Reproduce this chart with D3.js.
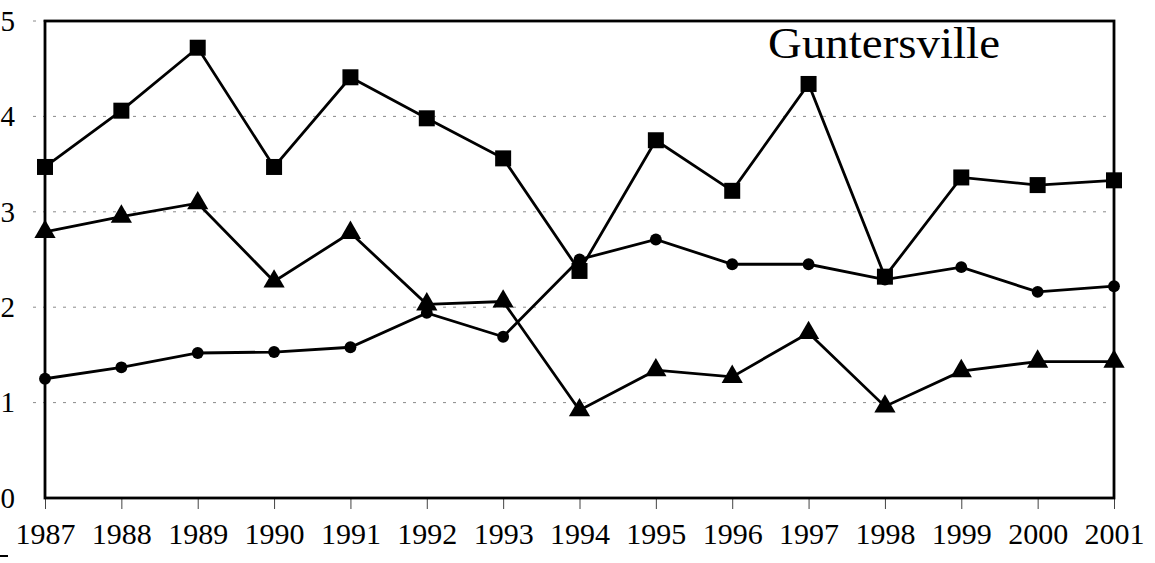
<!DOCTYPE html>
<html>
<head>
<meta charset="utf-8">
<script src="https://cdn.jsdelivr.net/npm/d3@7"></script>
<style>
  body { margin: 0; background: #fff; }
  svg { display: block; }
  text { font-family: "Liberation Serif", "Times New Roman", serif; fill: #000; }
</style>
</head>
<body>
<svg id="chart" width="1155" height="563"></svg>
<script>
// values
const years = [1987, 1988, 1989, 1990, 1991, 1992, 1993, 1994, 1995, 1996, 1997, 1998, 1999, 2000, 2001];
const squareSeries = [3.47, 4.06, 4.72, 3.47, 4.41, 3.98, 3.56, 2.38, 3.75, 3.22, 4.34, 2.32, 3.36, 3.28, 3.33];
const circleSeries = [1.25, 1.37, 1.52, 1.53, 1.58, 1.94, 1.69, 2.5, 2.71, 2.45, 2.45, 2.29, 2.42, 2.16, 2.22];
const triangleSeries = [2.79, 2.95, 3.09, 2.27, 2.78, 2.03, 2.06, 0.92, 1.34, 1.27, 1.73, 0.96, 1.33, 1.43, 1.43];
const yTicks = [0, 1, 2, 3, 4, 5];
const title = "Guntersville";

const plotLeft = 45;
const plotRight = 1114;
const plotTop = 21;
const plotBottom = 498;

const svg = d3.select("#chart");

const xScale = d3.scalePoint().domain(years).range([plotLeft, plotRight]);
const yScale = d3.scaleLinear().domain([0, 5]).range([plotBottom, plotTop]);

// dashed gridlines (they run a bit left of the axis like in the scan)
svg
  .append("g")
  .selectAll("line")
  .data(yTicks.filter((d) => d > 0))
  .join("line")
  .attr("x1", plotLeft - 12)
  .attr("x2", plotRight)
  .attr("y1", (d) => yScale(d))
  .attr("y2", (d) => yScale(d))
  .attr("stroke", "#8a8a8a")
  .attr("stroke-width", 1)
  .attr("stroke-dasharray", "3,7");

// y labels
svg
  .append("g")
  .selectAll("text")
  .data(yTicks)
  .join("text")
  .attr("x", 15)
  .attr("y", (d) => yScale(d))
  .attr("dy", "0.34em")
  .attr("text-anchor", "end")
  .style("font-size", "29px")
  .text((d) => d);

// x axis ticks + labels
const xAxis = d3.axisBottom(xScale).tickSize(11).tickPadding(14);
const gx = svg
  .append("g")
  .attr("transform", "translate(0," + plotBottom + ")")
  .call(xAxis);
gx.select(".domain").remove();
gx.selectAll(".tick line").attr("stroke", "#444").attr("stroke-width", 1);
gx.selectAll(".tick text")
  .style("font-size", "30px")
  .style("font-family", '"Liberation Serif", serif')
  .attr("fill", "#000");

// series lines + markers
const series = [
  { values: circleSeries, symbol: d3.symbolCircle, size: 110 },
  { values: triangleSeries, symbol: d3.symbolTriangle, size: 195 },
  { values: squareSeries, symbol: d3.symbolSquare, size: 256 },
];

const line = d3
  .line()
  .x((d, i) => xScale(years[i]))
  .y((d) => yScale(d));

series.forEach((s) => {
  svg
    .append("path")
    .datum(s.values)
    .attr("d", line)
    .attr("fill", "none")
    .attr("stroke", "#000")
    .attr("stroke-width", 2.8);

  svg
    .append("g")
    .selectAll("path")
    .data(s.values)
    .join("path")
    .attr("d", d3.symbol().type(s.symbol).size(s.size))
    .attr("transform", (d, i) => "translate(" + xScale(years[i]) + "," + yScale(d) + ")")
    .attr("fill", "#000");
});

// plot frame
svg
  .append("rect")
  .attr("x", plotLeft)
  .attr("y", plotTop)
  .attr("width", plotRight - plotLeft)
  .attr("height", plotBottom - plotTop)
  .attr("fill", "none")
  .attr("stroke", "#000")
  .attr("stroke-width", 2.8);

// title inside the plot
svg
  .append("text")
  .attr("x", 768)
  .attr("y", 58)
  .attr("textLength", 232)
  .attr("lengthAdjust", "spacingAndGlyphs")
  .style("font-size", "44px")
  .text(title);

// small scan mark bottom left
svg
  .append("line")
  .attr("x1", 0)
  .attr("x2", 8)
  .attr("y1", 556)
  .attr("y2", 556)
  .attr("stroke", "#000")
  .attr("stroke-width", 2);
</script>
</body>
</html>
